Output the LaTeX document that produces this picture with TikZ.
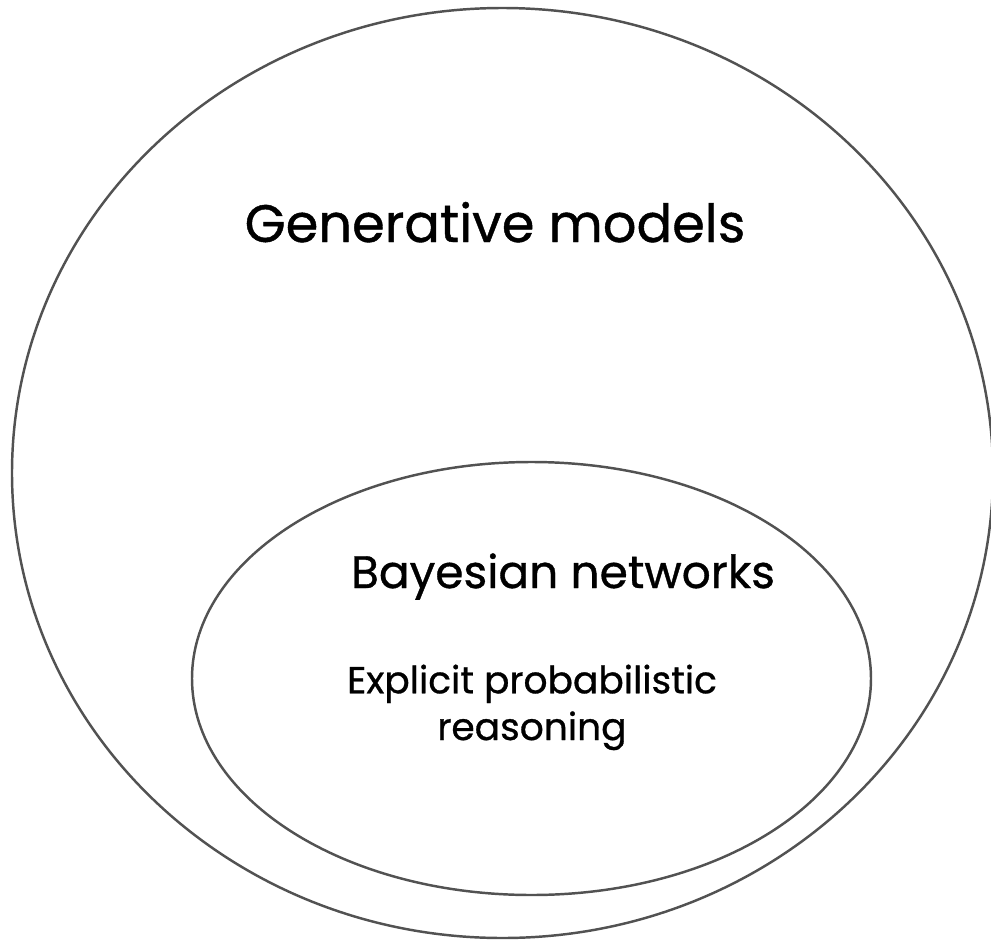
\documentclass[tikz,border=0pt]{standalone}
\usepackage{fontspec}
\setmainfont[FakeBold=0.8,AutoFakeBold=0.8]{Poppins}
\usetikzlibrary{positioning}

\begin{document}
\begin{tikzpicture}[
      x=0.02cm,y=-0.02cm,
      set/.style={draw=black!68,line width=1.4pt},
      title/.style={font=\fontsize{30}{36}\selectfont\bfseries,anchor=base},
      sub/.style={font=\fontsize{25.9}{30}\selectfont\bfseries,anchor=base},
      note/.style={font=\fontsize{21.4}{26.6}\selectfont\bfseries,align=center,anchor=base}
    ]
      \useasboundingbox (0,0) rectangle (991,940);
      \draw[set] (502.5,473) ellipse [x radius=490.5,y radius=465];
      \draw[set] (531.5,678.5) ellipse [x radius=339.5,y radius=216.5];
      \node[title] (generative) at (495,242) {Generative models};
      \node[sub] (bayes) at (563,588) {Bayesian networks};
      \node[note] (explicit) at (532,740) {Explicit probabilistic\\reasoning};
    \end{tikzpicture}
\end{document}
